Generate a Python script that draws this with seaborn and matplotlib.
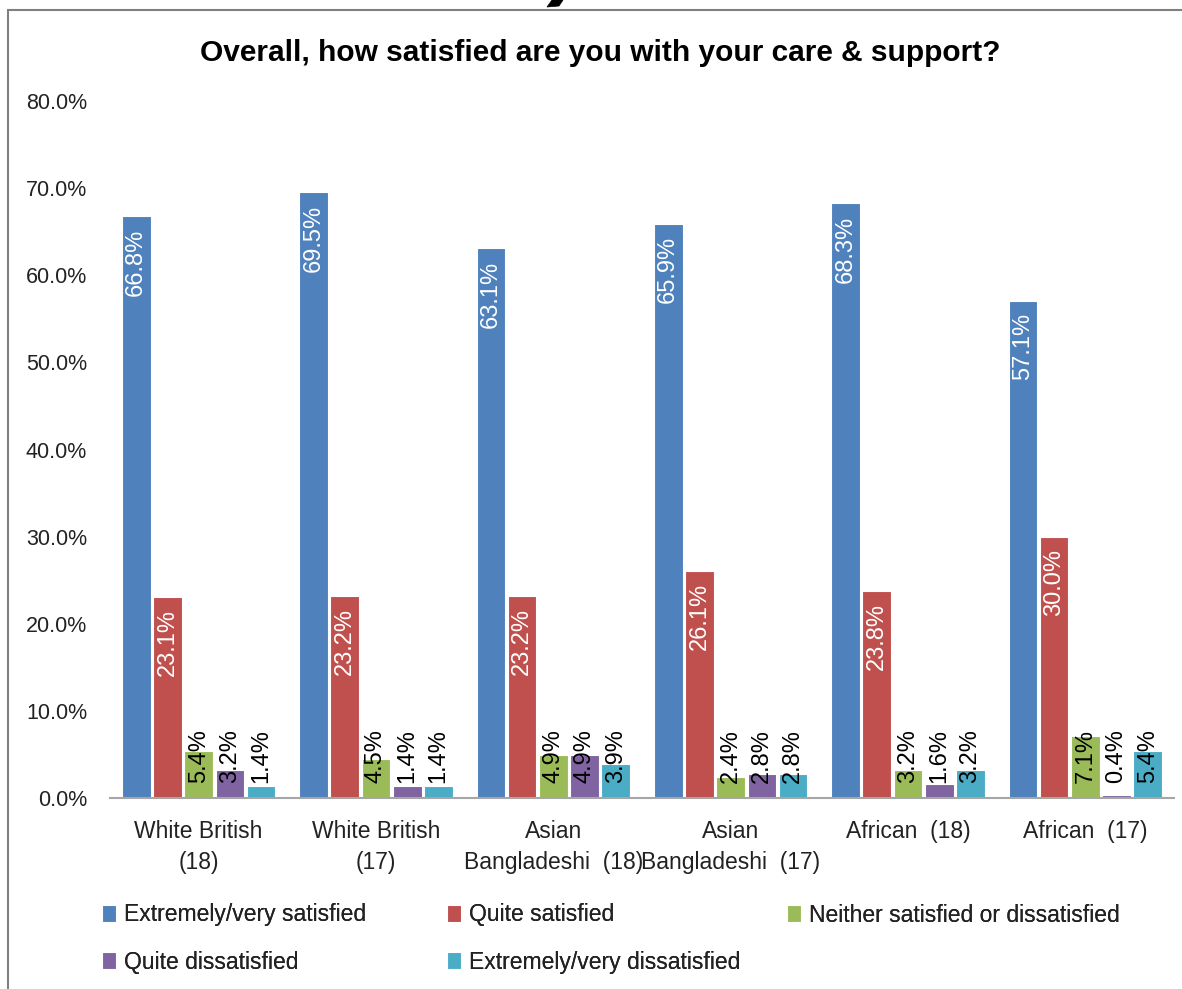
import matplotlib
matplotlib.use("Agg")
import matplotlib.pyplot as plt
from matplotlib.patches import Rectangle, Polygon
from matplotlib.ticker import FuncFormatter
import pandas as pd
import seaborn as sns

# ---- data ----
groups = ["White British\n(18)", "White British\n(17)", "Asian\nBangladeshi  (18)",
          "Asian\nBangladeshi  (17)", "African  (18)", "African  (17)"]
series = ["Extremely/very satisfied", "Quite satisfied", "Neither satisfied or dissatisfied",
          "Quite dissatisfied", "Extremely/very dissatisfied"]
very_satisfied = [66.8, 69.5, 63.1, 65.9, 68.3, 57.1]
quite_satisfied = [23.1, 23.2, 23.2, 26.1, 23.8, 30.0]
neither = [5.4, 4.5, 4.9, 2.4, 3.2, 7.1]
quite_dissatisfied = [3.2, 1.4, 4.9, 2.8, 1.6, 0.4]
very_dissatisfied = [1.4, 1.4, 3.9, 2.8, 3.2, 5.4]
yticks = [0, 10, 20, 30, 40, 50, 60, 70, 80]
title = "Overall, how satisfied are you with your care & support?"

colors = ["#4F81BD", "#C0504D", "#9BBB59", "#8064A2", "#4BACC6"]

values = [very_satisfied, quite_satisfied, neither, quite_dissatisfied, very_dissatisfied]
rows = []
for s, vals in zip(series, values):
    for g, v in zip(groups, vals):
        rows.append({"group": g, "series": s, "value": v})
df = pd.DataFrame(rows)

sns.set_style("white")
plt.rcParams["font.family"] = ["Liberation Sans", "DejaVu Sans"]

W, H = 1182, 989
fig = plt.figure(figsize=(W / 100, H / 100), dpi=100)
ax = fig.add_axes([110 / W, 1 - 798 / H, (1174 - 110) / W, (798 - 101) / H])

sns.barplot(data=df, x="group", y="value", hue="series", order=groups,
            hue_order=series, palette=colors, saturation=1, width=0.88, gap=0.08,
            edgecolor="white", linewidth=0.8, ax=ax, errorbar=None)
handles, labels = ax.get_legend_handles_labels()
if ax.get_legend() is not None:
    ax.get_legend().remove()

ax.set_xlim(-0.5, 5.5)
ax.set_ylim(0, 80)
ax.set_yticks(yticks)
ax.yaxis.set_major_formatter(FuncFormatter(lambda v, p: f"{v:.1f}%"))
ax.set_xlabel("")
ax.set_ylabel("")
ax.tick_params(axis="y", length=0, pad=16.5, labelsize=15.5, labelcolor="#222222")
ax.tick_params(axis="x", length=0, pad=16, labelsize=16.5, labelcolor="#222222")
for lab in ax.get_xticklabels():
    lab.set_linespacing(1.45)
for side in ["left", "right", "top"]:
    ax.spines[side].set_visible(False)
ax.spines["bottom"].set_color("#A6A6A6")
ax.spines["bottom"].set_linewidth(1.5)
ax.grid(False)

# data labels
for i, cont in enumerate(ax.containers):
    for bar in cont:
        x = bar.get_x() + bar.get_width() / 2
        h = bar.get_height()
        txt = f"{h:.1f}%"
        if i < 2:
            ax.annotate(txt, (x, h), xytext=(0, -9), textcoords="offset points",
                        ha="center", va="top", rotation=90, color="white", fontsize=17)
        else:
            ax.annotate(txt, (x, 0), xytext=(0, 10.5), textcoords="offset points",
                        ha="center", va="bottom", rotation=90, color="black", fontsize=17)

# title
fig.text(600 / W, 1 - 53 / H, title, ha="center", va="center",
         fontsize=21.5, fontweight="bold", color="black")

# legend entries placed individually
pos = [(102, 915), (447, 915), (787, 915), (102, 962), (447, 962)]
for hnd, lbl, (px, py) in zip(handles, labels, pos):
    leg = fig.legend([hnd], [lbl], loc="center left",
                     bbox_to_anchor=(px / W, 1 - py / H), frameon=False,
                     borderpad=0, borderaxespad=0, handlelength=0.6,
                     handleheight=0.75, handletextpad=0.35, fontsize=16.5)
    for t in leg.get_texts():
        t.set_color("#222222")
    fig.add_artist(leg)

# chart border (left and top edges visible)
fig.patches.append(Rectangle((8 / W, -0.1), 1.2, 1 - 10 / H + 0.1, fill=False,
                             edgecolor="#808080", linewidth=1.5,
                             transform=fig.transFigure, figure=fig))
# cropped decorative fragment above the chart border
frag = [(552, 0), (563, 0), (559, 6), (547, 7)]
fig.patches.append(Polygon([(px / W, 1 - py / H) for px, py in frag], closed=True,
                           facecolor="black", edgecolor="black", linewidth=0.5,
                           transform=fig.transFigure, figure=fig))

fig.savefig("out.png", dpi=100)
